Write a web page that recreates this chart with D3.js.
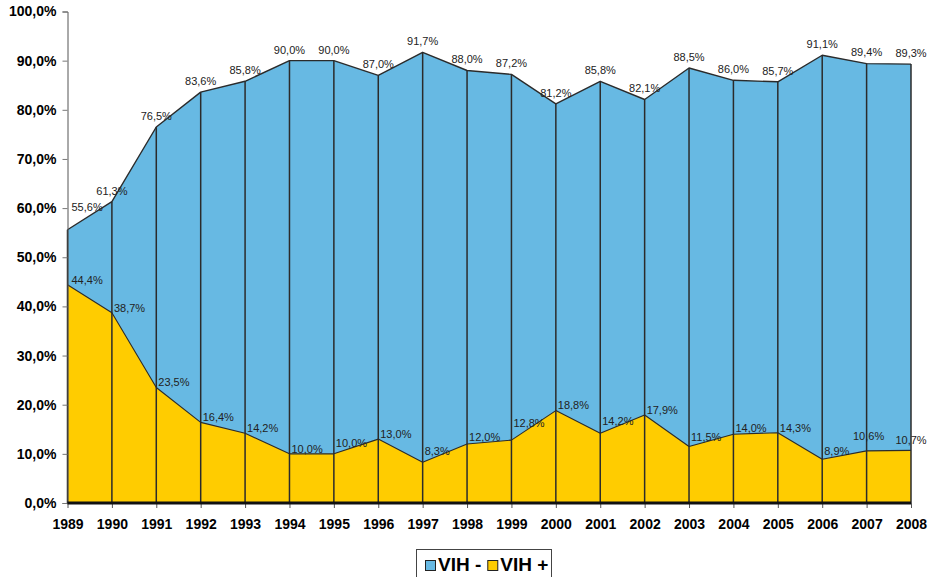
<!DOCTYPE html>
<html>
<head>
<meta charset="utf-8">
<script src="https://cdn.jsdelivr.net/npm/d3@7"></script>
<style>
  html, body { margin: 0; padding: 0; background: #fff; }
  svg { display: block; font-family: "Liberation Sans", Arial, Helvetica, sans-serif; }
</style>
</head>
<body>
<svg id="chart" width="932" height="577"></svg>
<script>
// Yearly share of VIH- and VIH+ (percent)
const years = [1989, 1990, 1991, 1992, 1993, 1994, 1995, 1996, 1997, 1998,
               1999, 2000, 2001, 2002, 2003, 2004, 2005, 2006, 2007, 2008];
const vihNeg = [55.6, 61.3, 76.5, 83.6, 85.8, 90.0, 90.0, 87.0, 91.7, 88.0,
                87.2, 81.2, 85.8, 82.1, 88.5, 86.0, 85.7, 91.1, 89.4, 89.3];
const vihPos = [44.4, 38.7, 23.5, 16.4, 14.2, 10.0, 10.0, 13.0, 8.3, 12.0,
                12.8, 18.8, 14.2, 17.9, 11.5, 14.0, 14.3, 8.9, 10.6, 10.7];
const yTicks = [0, 10, 20, 30, 40, 50, 60, 70, 80, 90, 100];
const seriesNames = ["VIH -", "VIH +"];

const W = 932, H = 577;
const plot = { left: 67.5, right: 911, top: 11.5, bottom: 503 };
const BLUE = "#67B9E3", YELLOW = "#FFCC00", LINE = "#2b2b2b";

const svg = d3.select("#chart");
const x = d3.scaleLinear().domain([years[0], years[years.length - 1]]).range([plot.left, plot.right]);
const y = d3.scaleLinear().domain([0, 100]).range([plot.bottom, plot.top]);

const loc = d3.formatLocale({ decimal: ",", thousands: ".", grouping: [3], currency: ["", "€"] });
const pct = v => loc.format(".1f")(v) + "%";

const negPts = years.map((yr, i) => ({ yr, v: vihNeg[i] }));
const posPts = years.map((yr, i) => ({ yr, v: vihPos[i] }));

// Areas: VIH- behind, VIH+ in front
const area = d3.area().x(d => x(d.yr)).y0(y(0)).y1(d => y(d.v));
const line = d3.line().x(d => x(d.yr)).y(d => y(d.v));

svg.append("path").datum(negPts).attr("d", area).attr("fill", BLUE);
svg.append("path").datum(posPts).attr("d", area).attr("fill", YELLOW);
svg.append("path").datum(negPts).attr("d", line)
  .attr("fill", "none").attr("stroke", LINE).attr("stroke-width", 1.4).attr("stroke-linejoin", "round");
svg.append("path").datum(posPts).attr("d", line)
  .attr("fill", "none").attr("stroke", LINE).attr("stroke-width", 1.1).attr("stroke-linejoin", "round");

// Drop lines at every year
svg.append("g").selectAll("line").data(negPts).join("line")
  .attr("x1", d => x(d.yr)).attr("x2", d => x(d.yr))
  .attr("y1", y(0)).attr("y2", d => y(d.v))
  .attr("stroke", LINE).attr("stroke-width", 1.5);

// Y axis
const yAxis = svg.append("g").attr("transform", `translate(${plot.left},0)`)
  .call(d3.axisLeft(y).tickValues(yTicks).tickFormat(pct).tickSize(5).tickPadding(6));
yAxis.select(".domain").attr("stroke", "#555").attr("stroke-width", 1);
yAxis.selectAll(".tick line").attr("stroke", "#777");
yAxis.selectAll(".tick text").attr("font-size", 14).attr("font-weight", "bold")
  .attr("fill", "#000").attr("font-family", "'Liberation Sans', Arial, sans-serif");

// X axis
const xAxis = svg.append("g").attr("transform", `translate(0,${plot.bottom})`)
  .call(d3.axisBottom(x).tickValues(years).tickFormat(d3.format("d")).tickSize(5).tickPadding(11));
xAxis.select(".domain").remove();
xAxis.selectAll(".tick line").attr("stroke", "#555");
xAxis.selectAll(".tick text").attr("font-size", 14).attr("font-weight", "bold")
  .attr("fill", "#000").attr("font-family", "'Liberation Sans', Arial, sans-serif");
svg.append("line").attr("x1", plot.left).attr("x2", plot.right)
  .attr("y1", y(0)).attr("y2", y(0)).attr("stroke", "#111").attr("stroke-width", 3);

// Value of a series' line at an arbitrary pixel x
function valueAt(vals, px) {
  const t = x.invert(px);
  const i = Math.max(0, Math.min(years.length - 2, Math.floor(t - years[0])));
  const f = Math.max(0, Math.min(1, t - years[i]));
  return vals[i] + (vals[i + 1] - vals[i]) * f;
}

const labels = svg.append("g").attr("font-size", 11).attr("fill", "#222");

// VIH- labels: centred above each point, kept inside the plot area
negPts.forEach((d, i) => {
  const t = labels.append("text").text(pct(d.v)).attr("text-anchor", "middle");
  const w = t.node().getComputedTextLength();
  let cx = x(d.yr), cy = y(d.v) - 11;
  if (cx - w / 2 < plot.left + 4) {
    cx = plot.left + 4 + w / 2;
    cy = y(valueAt(vihNeg, cx)) - 10;
  }
  t.attr("x", cx).attr("y", cy).attr("dy", "0.35em");
});

// VIH+ labels: to the right of each point, above the line; moved above the point if crowded
const boxes = [];
for (let i = posPts.length - 1; i >= 0; i--) {
  const d = posPts[i];
  const t = labels.append("text").text(pct(d.v));
  const w = t.node().getComputedTextLength();
  let left = Math.max(x(d.yr) + 2, plot.left + 4);
  const vmax = Math.max(d.v, valueAt(vihPos, left + w / 2));
  let cy = y(vmax) - 5;
  const next = boxes[0];
  if (left + w > W - 4) {
    left = x(d.yr) - w / 2;
    cy = y(d.v) - 10;
  } else if (next && left + w > next.left && Math.abs(cy - next.cy) < 12) {
    left = x(d.yr) - w / 2 + 2;
    cy = y(d.v) - 15;
  }
  t.attr("x", left).attr("y", cy).attr("dy", "0.35em");
  boxes.unshift({ left, cy, w });
}

// Legend
const lg = svg.append("g");
lg.append("rect").attr("x", 416.5).attr("y", 549.5).attr("width", 135).attr("height", 40)
  .attr("fill", "#fff").attr("stroke", "#444").attr("stroke-width", 1);
const items = [{ name: seriesNames[0], color: BLUE }, { name: seriesNames[1], color: YELLOW }];
let lx = 425;
items.forEach(it => {
  lg.append("rect").attr("x", lx + 0.5).attr("y", 560.5).attr("width", 10).attr("height", 10)
    .attr("fill", it.color).attr("stroke", "#222").attr("stroke-width", 1);
  const t = lg.append("text").attr("x", lx + 13).attr("y", 571)
    .attr("font-size", 19).attr("font-weight", "bold").attr("fill", "#000").text(it.name);
  lx += 13 + t.node().getComputedTextLength() + 6;
});
</script>
</body>
</html>
